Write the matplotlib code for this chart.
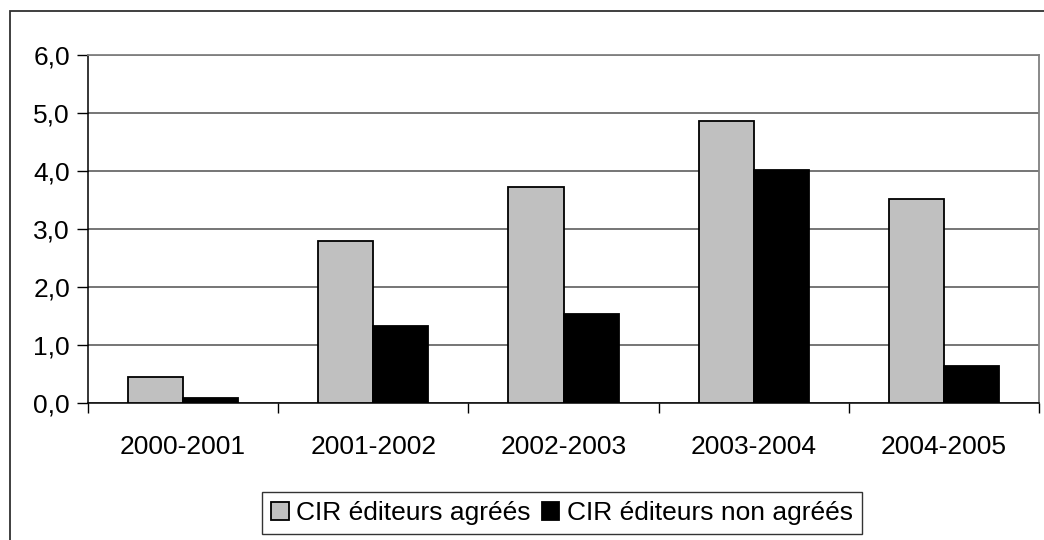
import numpy as np
import matplotlib.pyplot as plt
from matplotlib.patches import Rectangle, Patch
from matplotlib.ticker import FuncFormatter

#####################################################

periods = ['2000-2001', '2001-2002', '2002-2003', '2003-2004', '2004-2005']
agrees = [0.45, 2.79, 3.72, 4.86, 3.51]
non_agrees = [0.08, 1.32, 1.53, 4.01, 0.63]
y_ticks = [0, 1, 2, 3, 4, 5, 6]
series_names = ['CIR éditeurs agréés', 'CIR éditeurs non agréés']

#####################################################

plt.rcParams['font.family'] = ['Liberation Sans', 'DejaVu Sans']
fs = 19

fig = plt.figure(figsize=(10.44, 5.4), dpi=100)
ax = fig.add_axes([88/1044, 1 - 402.7/540, (1039 - 88)/1044, (402.7 - 54.7)/540])

x = np.arange(len(periods))
w = 0.29
ax.bar(x - w/2, agrees, w, color='#c0c0c0', edgecolor='black', linewidth=1.3, zorder=3)
ax.bar(x + w/2, non_agrees, w, color='black', edgecolor='black', linewidth=1.3, zorder=3)

ax.set_xlim(-0.5, len(periods) - 0.5)
ax.set_ylim(0, 6)
ax.set_yticks(y_ticks)
ax.yaxis.set_major_formatter(FuncFormatter(lambda v, p: ('%.1f' % v).replace('.', ',')))
ax.yaxis.grid(True, color='#505050', linewidth=1.1, zorder=1)

# category boundaries as ticks, labels at centres
ax.set_xticks(np.arange(len(periods) + 1) - 0.5)
ax.set_xticklabels([])
ax.set_xticks(x, minor=True)
ax.set_xticklabels(periods, minor=True, fontsize=fs)
ax.tick_params(axis='x', which='major', direction='out', length=7, width=1, color='black')
ax.tick_params(axis='x', which='minor', length=0, pad=23)
ax.tick_params(axis='y', direction='out', length=8, width=1, labelsize=fs, pad=5)

for s in ['left', 'bottom']:
    ax.spines[s].set_color('black')
    ax.spines[s].set_linewidth(1.1)
for s in ['top', 'right']:
    ax.spines[s].set_color('#808080')
    ax.spines[s].set_linewidth(1.3)

# outer chart frame
fig.patches.append(Rectangle((10/1044, -0.02), 1.05, 1 - 11/540 + 0.02,
                             transform=fig.transFigure, fill=False,
                             edgecolor='#303030', linewidth=1.3))

handles = [Patch(facecolor='#c0c0c0', edgecolor='black', linewidth=1.3),
           Patch(facecolor='black', edgecolor='black', linewidth=1.3)]
leg = fig.legend(handles, series_names, loc='center', bbox_to_anchor=(562/1044, 1 - 513/540),
                 ncol=2, fontsize=fs, frameon=True, fancybox=False, handlelength=0.65,
                 handleheight=0.65, handletextpad=0.3, columnspacing=0.4,
                 borderpad=0.35, borderaxespad=0)
leg.get_frame().set_edgecolor('black')
leg.get_frame().set_linewidth(1.0)

fig.savefig('out.png', dpi=100)
